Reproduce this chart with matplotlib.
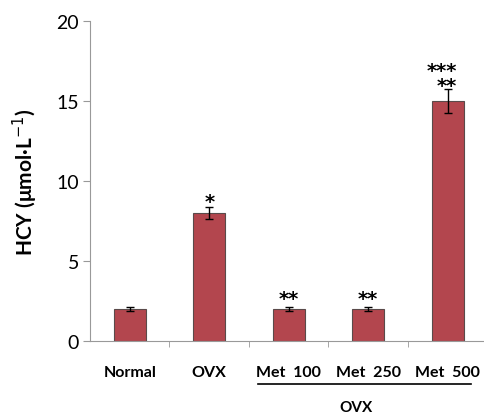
import matplotlib.pyplot as plt
import matplotlib.transforms as mtransforms

groups = ["Normal", "OVX", "Met  100", "Met  250", "Met  500"]
hcy = [2.0, 8.0, 2.0, 2.0, 15.0]
hcy_err = [0.1, 0.4, 0.1, 0.1, 0.75]
stars = ["", "*", "**", "**", "***\n**"]
star_lift = [0, -3.4, -0.6, -0.6, -4.2]   # points, relative to error bar top

plt.rcParams['font.family'] = ['Lato', 'DejaVu Sans']

fig = plt.figure(figsize=(4.84, 4.14), dpi=100)
ax = fig.add_axes([0.186, 0.174, 0.821, 0.773])

x = range(len(groups))
ax.bar(x, hcy, width=0.4, color="#b3464e", edgecolor="#5a4a4a", linewidth=0.8,
       yerr=hcy_err, error_kw=dict(ecolor="black", elinewidth=1, capsize=3, capthick=1))

# significance marks above the error bars
for i in x:
    if not stars[i]:
        continue
    if "\n" in stars[i]:
        # two rows, right aligned
        ax.annotate(stars[i], (i, hcy[i] + hcy_err[i]), xytext=(7, star_lift[i]),
                    textcoords="offset points", ha="right", va="bottom",
                    multialignment="right", linespacing=0.72,
                    fontsize=14, fontweight="bold", family="DejaVu Sans")
    else:
        ax.annotate(stars[i], (i, hcy[i] + hcy_err[i]), xytext=(0, star_lift[i]),
                    textcoords="offset points", ha="center", va="bottom",
                    fontsize=14, fontweight="bold", family="DejaVu Sans")

ax.set_xlim(-0.5, 4.5)
ax.set_ylim(0, 20)
ax.set_yticks([0, 5, 10, 15, 20])
ax.set_xticks(x)
ax.set_xticklabels(groups, fontsize=11.5, fontweight="bold")
ax.set_xticks([0.5, 1.5, 2.5, 3.5], minor=True)
ax.tick_params(axis="x", which="major", length=0, pad=17)
ax.tick_params(axis="x", which="minor", length=4, color="#999999", direction="out")
ax.tick_params(axis="y", length=5, color="#999999", labelsize=14, pad=3)

for side in ["top", "right"]:
    ax.spines[side].set_visible(False)
ax.spines["left"].set_color("#999999")
ax.spines["bottom"].set_color("#999999")

ax.set_ylabel("HCY (μmol·L$^{-1}$)", fontsize=15, fontweight="bold", labelpad=12)

# bracket for the OVX treatment groups
trans = mtransforms.blended_transform_factory(ax.transData, ax.transAxes)
ax.plot([1.61, 4.3], [-0.134, -0.134], color="black", linewidth=1.2,
        transform=trans, clip_on=False)
ax.text(2.85, -0.206, "OVX", transform=trans, ha="center", va="center",
        fontsize=11, fontweight="bold")

fig.savefig("out.png", dpi=100)
